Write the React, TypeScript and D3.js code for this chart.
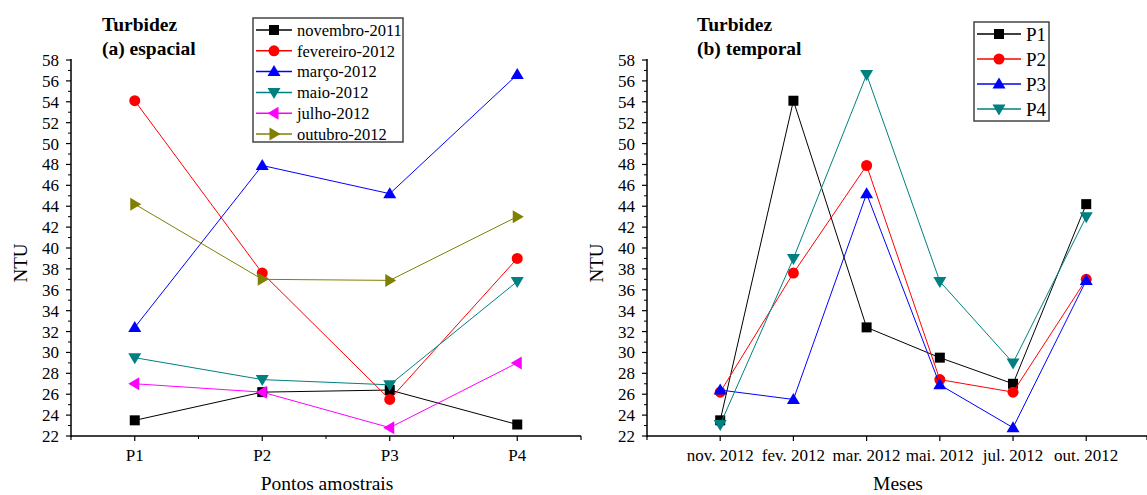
import React from "react";
import * as d3 from "d3";

// campanhas (painel a) x pontos
const pontos = ["P1", "P2", "P3", "P4"];
const meses = ["nov. 2012", "fev. 2012", "mar. 2012", "mai. 2012", "jul. 2012", "out. 2012"];
const campanhas = ["novembro-2011", "fevereiro-2012", "março-2012", "maio-2012", "julho-2012", "outubro-2012"];

const novembro2011 = [23.5, 26.2, 26.4, 23.1];
const fevereiro2012 = [54.1, 37.6, 25.5, 39.0];
const marco2012 = [32.4, 47.9, 45.2, 56.6];
const maio2012 = [29.5, 27.4, 26.9, 36.8];
const julho2012 = [27.0, 26.2, 22.8, 29.0];
const outubro2012 = [44.2, 37.0, 36.9, 43.0];

const yTicks = d3.range(22, 59, 2);

const FONT = '"Liberation Serif", "Times New Roman", "DejaVu Serif", serif';

type Shape = "square" | "circle" | "up" | "down" | "left" | "right";

interface Series {
  name: string;
  values: number[];
  color: string;
  shape: Shape;
}

const espacial: Series[] = [
  { name: campanhas[0], values: novembro2011, color: "#000000", shape: "square" },
  { name: campanhas[1], values: fevereiro2012, color: "#ff0000", shape: "circle" },
  { name: campanhas[2], values: marco2012, color: "#0000ff", shape: "up" },
  { name: campanhas[3], values: maio2012, color: "#008080", shape: "down" },
  { name: campanhas[4], values: julho2012, color: "#ff00ff", shape: "left" },
  { name: campanhas[5], values: outubro2012, color: "#808000", shape: "right" },
];

// painel b: mesma tabela, transposta (cada ponto ao longo dos meses)
const temporal: Series[] = pontos.map((p, i) => ({
  name: p,
  values: espacial.map((s) => s.values[i]),
  color: espacial[i].color,
  shape: espacial[i].shape,
}));

function Marker({ shape, x, y, color }: { shape: Shape; x: number; y: number; color: string }) {
  const s = 5.5;
  if (shape === "square") return <rect x={x - 5} y={y - 5} width={10} height={10} fill={color} />;
  if (shape === "circle") return <circle cx={x} cy={y} r={5.5} fill={color} />;
  let pts: [number, number][] = [];
  if (shape === "up") pts = [[x, y - s - 1], [x - s - 1, y + s - 1], [x + s + 1, y + s - 1]];
  if (shape === "down") pts = [[x, y + s + 1], [x - s - 1, y - s + 1], [x + s + 1, y - s + 1]];
  if (shape === "left") pts = [[x - s - 1, y], [x + s - 1, y - s - 1], [x + s - 1, y + s + 1]];
  if (shape === "right") pts = [[x + s + 1, y], [x - s + 1, y - s - 1], [x - s + 1, y + s + 1]];
  return <polygon points={pts.map((p) => p.join(",")).join(" ")} fill={color} />;
}

interface PanelProps {
  series: Series[];
  cats: string[];
  xDomain: [number, number];
  xRange: [number, number];
  title: string[];
  titleX: number;
  xLabel: string;
  legend: { x: number; y: number; w: number; h: number; row: number; line: number; font: number };
  minorX: number[];
}

function Panel({ series, cats, xDomain, xRange, title, titleX, xLabel, legend, minorX }: PanelProps) {
  const x = d3.scaleLinear().domain(xDomain).range(xRange);
  const y = d3.scaleLinear().domain([22, 58]).range([436, 60]);
  const x0 = xRange[0];
  const line = d3
    .line<number>()
    .x((_d, i) => x(i + 1))
    .y((d) => y(d));
  const minorY = d3.range(23, 58, 2);

  return (
    <g style={{ fontFamily: FONT }} fill="#000">
      {/* titulo */}
      <text x={titleX} y={31} fontSize={19.5} fontWeight="bold">{title[0]}</text>
      <text x={titleX} y={55} fontSize={19.5} fontWeight="bold">{title[1]}</text>

      {/* eixo y */}
      <line x1={x0} x2={x0} y1={y(58) - 1} y2={y(22) + 1} stroke="#000" strokeWidth={1.5} />
      {yTicks.map((t) => (
        <g key={t}>
          <line x1={x0 - 5} x2={x0} y1={y(t)} y2={y(t)} stroke="#000" strokeWidth={1.2} />
          <text x={x0 - 12} y={y(t)} dy="0.35em" textAnchor="end" fontSize={17}>{t}</text>
        </g>
      ))}
      {minorY.map((t) => (
        <line key={t} x1={x0 - 3} x2={x0} y1={y(t)} y2={y(t)} stroke="#000" strokeWidth={1} />
      ))}
      <text transform={`translate(${x0 - 44},${263}) rotate(-90)`} textAnchor="middle" fontSize={19}>NTU</text>

      {/* eixo x */}
      <line x1={x0} x2={xRange[1]} y1={y(22)} y2={y(22)} stroke="#000" strokeWidth={1.5} />
      <line x1={xRange[1]} x2={xRange[1]} y1={y(22)} y2={y(22) + 4} stroke="#000" strokeWidth={1.2} />
      <line x1={x0} x2={x0} y1={y(22)} y2={y(22) + 4} stroke="#000" strokeWidth={1.2} />
      {cats.map((c, i) => (
        <g key={c}>
          <line x1={x(i + 1)} x2={x(i + 1)} y1={y(22)} y2={y(22) + 5} stroke="#000" strokeWidth={1.2} />
          <text x={x(i + 1)} y={461} textAnchor="middle" fontSize={17}>{c}</text>
        </g>
      ))}
      {minorX.map((v) => (
        <line key={v} x1={x(v)} x2={x(v)} y1={y(22)} y2={y(22) + 3} stroke="#000" strokeWidth={1} />
      ))}
      <text x={(x0 + xRange[1]) / 2 + 1} y={490} textAnchor="middle" fontSize={19.5}>{xLabel}</text>

      {/* series */}
      {series.map((s) => (
        <g key={s.name}>
          <path d={line(s.values) ?? ""} fill="none" stroke={s.color} strokeWidth={1} />
          {s.values.map((v, i) => (
            <Marker key={i} shape={s.shape} x={x(i + 1)} y={y(v)} color={s.color} />
          ))}
        </g>
      ))}

      {/* legenda */}
      <rect x={legend.x} y={legend.y} width={legend.w} height={legend.h} fill="#fff" stroke="#444" strokeWidth={1.5} />
      {series.map((s, i) => {
        const ly = legend.y + 12 + i * legend.row;
        const lx = legend.x + 3;
        return (
          <g key={s.name}>
            <line x1={lx} x2={lx + legend.line} y1={ly} y2={ly} stroke={s.color} strokeWidth={1.5} />
            <Marker shape={s.shape} x={lx + legend.line / 2} y={ly} color={s.color} />
            <text x={lx + legend.line + 5} y={ly} dy="0.35em" fontSize={legend.font}>{s.name}</text>
          </g>
        );
      })}
    </g>
  );
}

export default function App() {
  return (
    <svg width={1147} height={495} style={{ display: "block", position: "absolute", left: 0, top: 0, background: "#fff" }}>
      <Panel
        series={espacial}
        cats={pontos}
        xDomain={[0.5, 4.5]}
        xRange={[71, 581]}
        title={["Turbidez", "(a) espacial"]}
        titleX={102}
        xLabel="Pontos amostrais"
        legend={{ x: 253, y: 18, w: 150, h: 124, row: 20.8, line: 36, font: 16.5 }}
        minorX={[1.5, 2.5, 3.5]}
      />
      <Panel
        series={temporal}
        cats={meses}
        xDomain={[0, 6.83]}
        xRange={[647, 1147]}
        title={["Turbidez", "(b) temporal"]}
        titleX={697}
        xLabel="Meses"
        legend={{ x: 974, y: 22, w: 75, h: 99, row: 25, line: 44, font: 19 }}
        minorX={[]}
      />
    </svg>
  );
}
